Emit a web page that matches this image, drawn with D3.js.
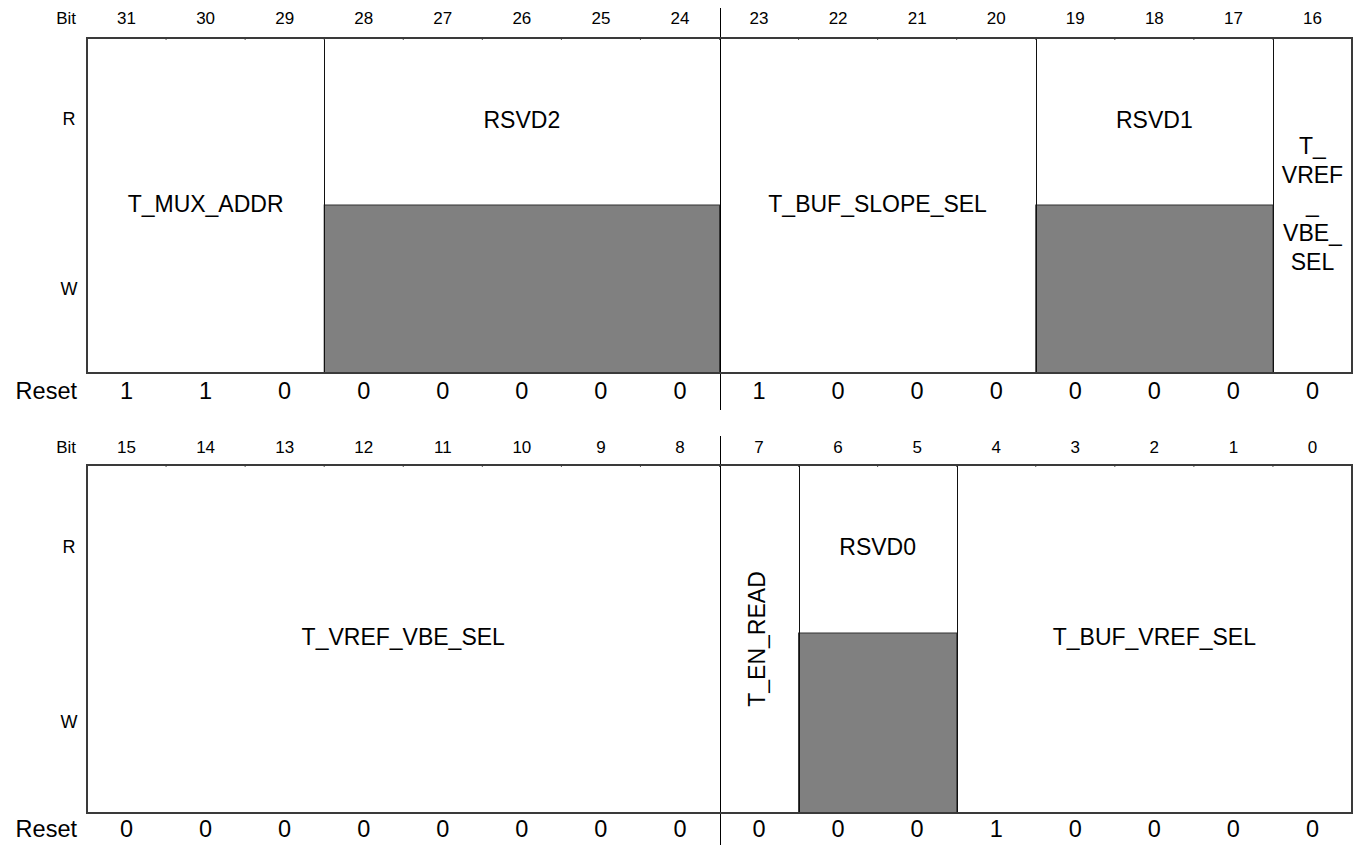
<!DOCTYPE html>
<html><head><meta charset="utf-8">
<script src="https://cdn.jsdelivr.net/npm/d3@7"></script>
<style>html,body{margin:0;padding:0;background:#fff}svg{display:block}</style>
</head><body>
<script>
// ---- data ----
const bitsHigh = [31,30,29,28,27,26,25,24,23,22,21,20,19,18,17,16];
const bitsLow  = [15,14,13,12,11,10,9,8,7,6,5,4,3,2,1,0];
const resetHigh = [1,1,0,0,0,0,0,0,1,0,0,0,0,0,0,0];
const resetLow  = [0,0,0,0,0,0,0,0,0,0,0,1,0,0,0,0];
// fields: [name, msb, lsb, access]  access: "rw" or "r" (write-part shaded)
const fieldsHigh = [
  ["T_MUX_ADDR",31,29,"rw"],
  ["RSVD2",28,24,"r"],
  ["T_BUF_SLOPE_SEL",23,20,"rw"],
  ["RSVD1",19,17,"r"],
  ["T_VREF_VBE_SEL",16,16,"rw"]
];
const fieldsLow = [
  ["T_VREF_VBE_SEL",15,8,"rw"],
  ["T_EN_READ",7,7,"rw"],
  ["RSVD0",6,5,"r"],
  ["T_BUF_VREF_SEL",4,0,"rw"]
];
const wrappedLabel = ["T_","VREF","_","VBE_","SEL"];
const rowLabels = ["R","W"];

// ---- layout ----
const W = 1353, H = 845;
const svg = d3.select("body").append("svg").attr("width",W).attr("height",H)
  .style("font-family","'Liberation Sans', Arial, Helvetica, sans-serif");

const panels = [
  {bits:bitsHigh, reset:resetHigh, fields:fieldsHigh, bitY:20, top:38, split:205, bottom:373, rY:120, wY:290, resetY:393, divTop:8, divBot:410},
  {bits:bitsLow, reset:resetLow, fields:fieldsLow, bitY:449, top:465, split:633, bottom:813, rY:548, wY:723, resetY:831, divTop:436, divBot:845}
];

const left = 87, right = 1352;
const FS_BIT = 17, FS_RW = 18, FS_FIELD = 23, FS_RESET = 23.5;

panels.forEach(p => {
  const x = d3.scaleBand().domain(p.bits).range([left,right]);
  const g = svg.append("g");
  const bw = x.bandwidth();

  // bit labels
  g.append("text").attr("x",76).attr("y",p.bitY).attr("text-anchor","end")
    .attr("dominant-baseline","middle").attr("font-size",FS_BIT).text("Bit");
  g.selectAll("text.bit").data(p.bits).join("text").attr("class","bit")
    .attr("x",d=>x(d)+bw/2).attr("y",p.bitY).attr("text-anchor","middle")
    .attr("dominant-baseline","middle").attr("font-size",FS_BIT).text(d=>d);

  // R / W labels
  g.selectAll("text.rw").data(rowLabels).join("text").attr("class","rw")
    .attr("x",69).attr("y",(d,i)=>i===0?p.rY:p.wY).attr("text-anchor","middle")
    .attr("dominant-baseline","middle").attr("font-size",FS_RW).text(d=>d);

  // shaded write areas for read-only fields
  g.selectAll("rect.sh").data(p.fields.filter(f=>f[3]==="r")).join("rect").attr("class","sh")
    .attr("x",f=>x(f[1])).attr("y",p.split)
    .attr("width",f=>x(f[2])+bw-x(f[1])).attr("height",p.bottom-p.split)
    .attr("fill","#808080").attr("stroke","#333").attr("stroke-width",1);

  // field boundaries
  g.selectAll("line.fb").data(p.fields.slice(1)).join("line").attr("class","fb")
    .attr("x1",f=>Math.round(x(f[1]))+0.5).attr("x2",f=>Math.round(x(f[1]))+0.5)
    .attr("y1",p.top).attr("y2",p.bottom).attr("stroke","#111").attr("stroke-width",1);

  // middle divider (byte boundary)
  const mid = x(p.bits[8]);
  g.append("line").attr("x1",Math.round(mid)+0.5).attr("x2",Math.round(mid)+0.5)
    .attr("y1",p.divTop).attr("y2",p.divBot).attr("stroke","#000").attr("stroke-width",1);

  // small ticks on top edge
  g.selectAll("line.tk").data(p.bits.slice(1)).join("line").attr("class","tk")
    .attr("x1",d=>x(d)).attr("x2",d=>x(d)).attr("y1",p.top).attr("y2",p.top+2)
    .attr("stroke","#555").attr("stroke-width",1);

  // outer box
  g.append("rect").attr("x",left).attr("y",p.top).attr("width",right-left).attr("height",p.bottom-p.top)
    .attr("fill","none").attr("stroke","#3a3a3a").attr("stroke-width",2);

  // field labels
  p.fields.forEach(f => {
    const cx = (x(f[1]) + x(f[2]) + bw)/2;
    const cy = f[3]==="r" ? (p.top+p.split)/2 : (p.top+p.bottom)/2;
    if (f[0]==="T_EN_READ") {
      g.append("text").attr("transform",`translate(${cx},${cy}) rotate(-90)`)
        .attr("text-anchor","middle").attr("dominant-baseline","middle")
        .attr("font-size",FS_FIELD).text(f[0]);
    } else if (f[1]===f[2]) {
      const t = g.append("text").attr("text-anchor","middle").attr("font-size",FS_FIELD);
      wrappedLabel.forEach((ln,i)=>{
        t.append("tspan").attr("x",cx).attr("y",cy+(i-2)*29).attr("dominant-baseline","middle").text(ln);
      });
    } else {
      g.append("text").attr("x",cx).attr("y",cy).attr("text-anchor","middle")
        .attr("dominant-baseline","middle").attr("font-size",FS_FIELD).text(f[0]);
    }
  });

  // reset row
  g.append("text").attr("x",77).attr("y",p.resetY).attr("text-anchor","end")
    .attr("dominant-baseline","middle").attr("font-size",FS_RESET).text("Reset");
  g.selectAll("text.rv").data(p.reset).join("text").attr("class","rv")
    .attr("x",(d,i)=>x(p.bits[i])+bw/2).attr("y",p.resetY).attr("text-anchor","middle")
    .attr("dominant-baseline","middle").attr("font-size",FS_RESET).text(d=>d);
});
</script>
</body></html>
